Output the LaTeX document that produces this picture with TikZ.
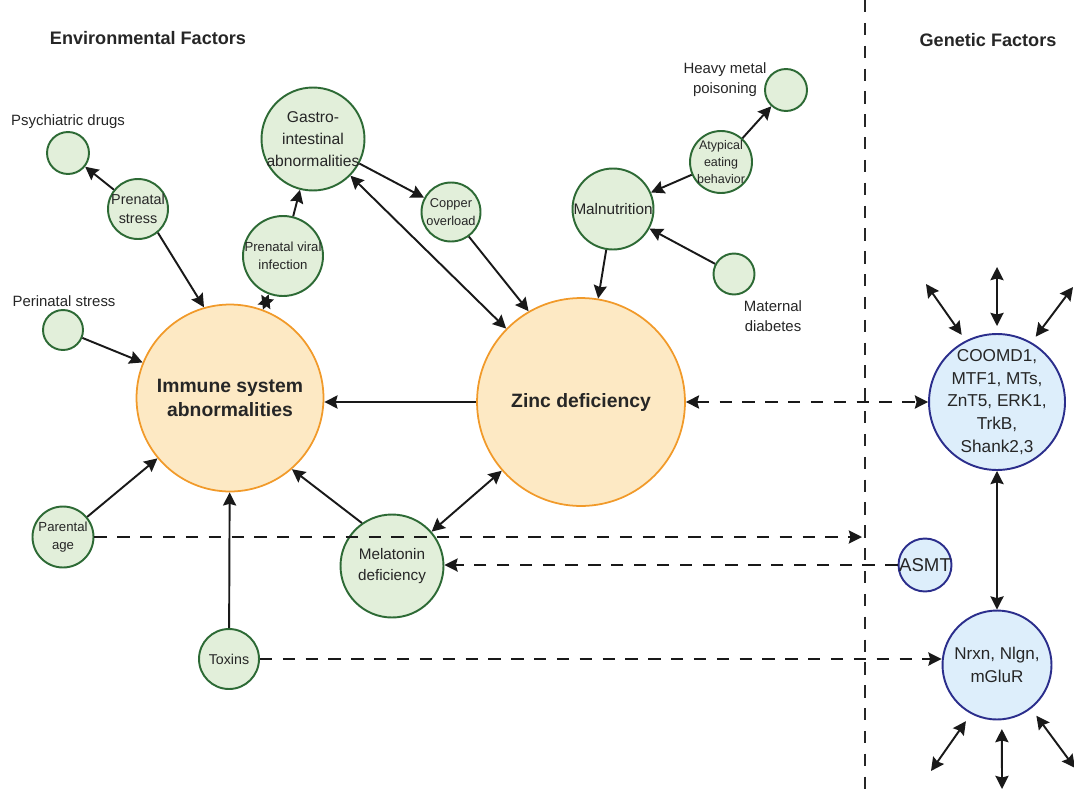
\documentclass[tikz,border=0pt]{standalone}
\usepackage{fontspec}
\setmainfont{Liberation Sans}
\usepackage{xcolor}
\usepackage{tikz}
\usetikzlibrary{arrows.meta}
\definecolor{envfill}{HTML}{E2EFDA}
\definecolor{envline}{HTML}{2D6A35}
\definecolor{hubfill}{HTML}{FDE9C4}
\definecolor{hubline}{HTML}{F19A2A}
\definecolor{genefill}{HTML}{DDEEFB}
\definecolor{geneline}{HTML}{2B2E8C}
\newcommand{\fs}[2]{\fontsize{#1}{#2}\selectfont}
\tikzset{
  envfactor/.style={circle, draw=envline, fill=envfill, line width=1.1pt, inner sep=0pt},
  hub/.style={circle, draw=hubline, fill=hubfill, line width=1pt, inner sep=0pt},
  gene/.style={circle, draw=geneline, fill=genefill, line width=1.1pt, inner sep=0pt},
  txt/.style={align=center, inner sep=0pt, text=black!85},
  link/.style={line width=1.1pt, black!90},
  dlink/.style={link, dash pattern=on 7pt off 6pt},
}

\begin{document}
\begin{tikzpicture}[x=0.02cm, y=-0.02cm, >={Stealth[length=7.5pt,width=7.5pt,inset=1pt]}]
      \useasboundingbox (0,0) rectangle (1074,794);
      \draw[dash pattern=on 7pt off 6pt, line width=1pt, black!85] (865,0) -- (865,794);
      \node[txt, font=\bfseries\fs{10.3}{12}] (envhead) at (148,38) {Environmental Factors};
      \node[txt, font=\bfseries\fs{10.3}{12}] (genehead) at (988,40) {Genetic Factors};

      % central hubs
      \node[hub, minimum size=3.74cm, label={[txt, font=\bfseries\fs{11}{14}]center:Immune system\\abnormalities}] (immune) at (230,398) {};
      \node[hub, minimum size=4.16cm, label={[txt, font=\bfseries\fs{11}{14}]center:Zinc deficiency}] (zinc) at (581,402) {};

      % environmental factors
      \node[envfactor, minimum size=0.84cm] (psych) at (68,153) {};
      \node[txt, font=\fs{8.5}{11}] (psychtext) at (68,122) {Psychiatric drugs};
      \node[envfactor, minimum size=1.2cm, label={[txt, font=\fs{8.2}{11}]center:Prenatal\\stress}] (pstress) at (138,209) {};
      \node[envfactor, minimum size=0.8cm] (perinatal) at (63,330) {};
      \node[txt, font=\fs{8.5}{11}] (perinataltext) at (64,301) {Perinatal stress};
      \node[envfactor, minimum size=1.6cm, label={[txt, font=\fs{7.5}{10.5}]center:Prenatal viral\\infection}] (viral) at (283,256) {};
      \node[envfactor, minimum size=2.06cm, label={[txt, font=\fs{8.9}{12.5}]center:Gastro-\\intestinal\\abnormalities}] (gastro) at (313,139) {};
      \node[envfactor, minimum size=1.18cm, label={[txt, font=\fs{7.3}{10.5}]center:Copper\\overload}] (copper) at (451,212) {};
      \node[envfactor, minimum size=1.62cm, label={[txt, font=\fs{8.7}{11}]center:Malnutrition}] (malnut) at (613,209) {};
      \node[envfactor, minimum size=1.24cm, label={[txt, font=\fs{7.1}{9.6}]center:Atypical\\eating\\behavior}] (atypical) at (721,162) {};
      \node[envfactor, minimum size=0.84cm] (heavy) at (786,90) {};
      \node[txt, font=\fs{8.5}{11.5}] (heavytext) at (725,80) {Heavy metal\\poisoning};
      \node[envfactor, minimum size=0.82cm] (maternal) at (734,274) {};
      \node[txt, font=\fs{8.5}{11.5}] (maternaltext) at (773,316) {Maternal\\diabetes};
      \node[envfactor, minimum size=1.22cm, label={[txt, font=\fs{7.5}{10.5}]center:Parental\\age}] (parental) at (63,537) {};
      \node[envfactor, minimum size=2.06cm, label={[txt, font=\fs{8.7}{12}]center:Melatonin\\deficiency}] (melatonin) at (392,566) {};
      \node[envfactor, minimum size=1.2cm, label={[txt, font=\fs{8.1}{11}]center:Toxins}] (toxins) at (229,659) {};

      % genetic factors
      \node[gene, minimum size=2.72cm, label={[txt, font=\fs{9.8}{13}]center:COOMD1,\\MTF1, MTs,\\ZnT5, ERK1,\\TrkB,\\Shank2,3}] (coomd) at (997,402) {};
      \node[gene, minimum size=1.06cm, label={[txt, font=\fs{10.6}{13}]center:ASMT}] (asmt) at (925,565) {};
      \node[gene, minimum size=2.18cm, label={[txt, font=\fs{9.7}{13}]center:Nrxn, Nlgn,\\mGluR}] (nrxn) at (997,665) {};

      \coordinate (paend) at (862,537);
      \coordinate (up1) at (926,284);
      \coordinate (up2) at (997,267);
      \coordinate (up3) at (1073,287);
      \coordinate (down1) at (931,771);
      \coordinate (down2) at (1002,789);
      \coordinate (down3) at (1075,768);

      % solid links
      \draw[link,->] (pstress) -- (psych);
      \draw[link,->] (pstress.-50) -- (immune.106);
      \draw[link,->] (perinatal) -- (immune);
      \draw[link,<->] (viral) -- (immune);
      \draw[link,->] (viral) -- (gastro);
      \draw[link,->] (gastro) -- (copper);
      \draw[link,<->] (gastro) -- (zinc);
      \draw[link,->] (copper.-54) -- (zinc.120);
      \draw[link,->] (malnut) -- (zinc);
      \draw[link,->] (atypical) -- (malnut);
      \draw[link,->] (atypical) -- (heavy);
      \draw[link,->] (maternal) -- (malnut);
      \draw[link,->] (zinc.west) -- (zinc.west -| immune.east);
      \draw[link,->] (parental) -- (immune);
      \draw[link,->] (melatonin.125) -- (immune.-49);
      \draw[link,<->] (melatonin) -- (zinc);
      \draw[link,->] (toxins) -- (immune);
      \draw[link,<->] (coomd) -- (nrxn);
      \draw[link,<->,shorten >=4pt] (up1) -- (coomd.117);
      \draw[link,<->,shorten >=4pt] (up2) -- (coomd.90);
      \draw[link,<->,shorten >=4pt] (up3) -- (coomd.60);
      \draw[link,<->,shorten >=5pt] (down1) -- (nrxn.242);
      \draw[link,<->,shorten >=5pt] (down2) -- (nrxn.-85);
      \draw[link,<->,shorten >=5pt] (down3) -- (nrxn.-52);

      % dashed links
      \draw[dlink,<->] (zinc) -- (coomd);
      \draw[dlink,->] (parental.east) -- (paend);
      \draw[dlink,->] (asmt.west) -- (asmt.west -| melatonin.east);
      \draw[dlink,->] (toxins.east) -- (toxins.east -| nrxn.west);
\end{tikzpicture}
\end{document}
